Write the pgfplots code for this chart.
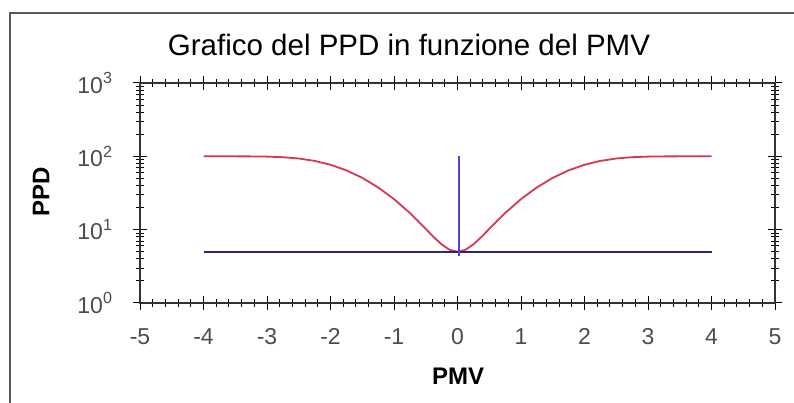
\documentclass[border=0pt]{standalone}
\usepackage{fontspec}
\setmainfont{Liberation Sans}
\usepackage{pgfplots}
\pgfplotsset{compat=1.18}
\definecolor{curvered}{RGB}{215,55,80}
\definecolor{lineblue}{RGB}{45,40,110}
\definecolor{vblue}{RGB}{85,65,215}
\begin{document}
\begin{tikzpicture}[x=1pt,y=1pt]
\useasboundingbox (0,0) rectangle (794,403);
\draw[black!65, line width=1.6pt] (10,0) -- (10,390) -- (794,390);
\begin{axis}[
  at={(140pt,100pt)}, anchor=south west,
  width=635pt, height=220pt, scale only axis,
  xmin=-5, xmax=5, ymode=log, ymin=1, ymax=1000,
  xtick={-5,-4,-3,-2,-1,0,1,2,3,4,5},
  xticklabels={-5,-4,-3,-2,-1,0,1,2,3,4,5},
  minor x tick num=4,
  ytick={1,10,100,1000},
  yticklabels={10\textsuperscript{0},10\textsuperscript{1},10\textsuperscript{2},10\textsuperscript{3}},
  tick align=center,
  major tick length=14pt, minor tick length=8pt,
  every tick/.style={black, line width=1pt},
  axis line style={line width=1.5pt, black!80},
  ticklabel style={font=\fontsize{23}{23}\selectfont, black!70},
  xticklabel style={yshift=-15pt},
  yticklabel style={xshift=-17pt},
  clip=false,
]
\addplot[curvered, line width=1.8pt] coordinates {
(-4,100) (-3.75,99.99) (-3.5,99.96) (-3.25,99.77) (-3,99.12) (-2.75,97.31)
(-2.5,93.43) (-2.25,86.65) (-2,76.76) (-1.75,64.41) (-1.5,50.90) (-1.25,37.72)
(-1,26.12) (-0.75,16.85) (-0.625,13.20) (-0.5,10.23) (-0.375,7.93) (-0.25,6.30)
(-0.125,5.32) (0,5)
(0.125,5.32) (0.25,6.30) (0.375,7.93) (0.5,10.23) (0.625,13.20) (0.75,16.85)
(1,26.12) (1.25,37.72) (1.5,50.90) (1.75,64.41) (2,76.76) (2.25,86.65)
(2.5,93.43) (2.75,97.31) (3,99.12) (3.25,99.77) (3.5,99.96) (3.75,99.99) (4,100)
};
\addplot[lineblue, line width=1.8pt] coordinates {(-4,5) (4,5)};
\addplot[vblue, line width=2.2pt] coordinates {(0.02,4.4) (0.02,100)};
\end{axis}
\node[font=\fontsize{29.5}{29.5}\selectfont] at (409,358) {Grafico del PPD in funzione del PMV};
\node[font=\fontsize{24}{24}\selectfont\bfseries, rotate=90] at (41,211) {PPD};
\node[font=\fontsize{24}{24}\selectfont\bfseries] at (458,27) {PMV};
\end{tikzpicture}
\end{document}
